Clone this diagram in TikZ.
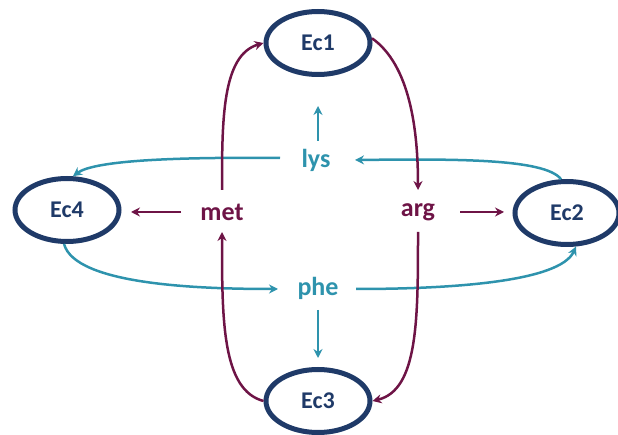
\documentclass[tikz,border=0pt]{standalone}
\usepackage{fontspec}
\setmainfont{Carlito}
\usetikzlibrary{shapes.geometric,arrows.meta}
\definecolor{navy}{HTML}{1F3A68}
\definecolor{tealc}{HTML}{2E93AD}
\definecolor{plum}{HTML}{6E1446}
\begin{document}
\begin{tikzpicture}[x=1pt,y=-1pt,
  ec/.style={draw=navy,line width=5pt,ellipse,minimum width=104pt,minimum height=63pt,inner sep=0pt,text=navy,font=\fontsize{24}{26}\selectfont\bfseries},
  lab/.style={inner sep=0pt,font=\fontsize{26}{28}\selectfont\bfseries},
  ta/.style={draw=tealc,line width=2.5pt,-{Stealth[length=9pt,width=9pt]}},
  pa/.style={draw=plum,line width=2.5pt,-{Stealth[length=9pt,width=9pt]}}]
\useasboundingbox (0,0) rectangle (618,435);
\node[ec] (e1) at (318,43) {Ec1};
\node[ec] (e4) at (67,210) {Ec4};
\node[ec] (e2) at (567,213) {Ec2};
\node[ec] (e3) at (318,401) {Ec3};
\node[lab,text=tealc] (lys) at (316,160) {lys};
\node[lab,text=plum] (met) at (222,212) {met};
\node[lab,text=plum] (arg) at (418,212) {arg};
\node[lab,text=tealc] (phe) at (318,288) {phe};
% straight arrows
\coordinate (l1) at (318,141); \coordinate (l2) at (318,106);
\draw[ta] (l1) -- (l2);
\coordinate (p1) at (318,310); \coordinate (p2) at (318,358);
\draw[ta] (p1) -- (p2);
\coordinate (m1) at (181,212); \coordinate (m2) at (131,212);
\draw[pa] (m1) -- (m2);
\coordinate (a1) at (460,212); \coordinate (a2) at (504,212);
\draw[pa] (a1) -- (a2);
% teal curves
\coordinate (lysR) at (355,160); \coordinate (lysL) at (280,158);
\coordinate (pheL) at (278,289); \coordinate (pheR) at (356,289);
\draw[ta] (e2.100) .. controls (545,158) and (450,159) .. (lysR);
\draw[ta] (lysL) .. controls (180,157) and (95,160) .. (e4.80);
\draw[ta] (e4.265) .. controls (75,285) and (200,289) .. (pheL);
\draw[ta] (pheR) .. controls (450,289) and (560,282) .. (e2.285);
% plum curves
\coordinate (argT) at (418,190); \coordinate (argB) at (418,232);
\coordinate (metT) at (222,190); \coordinate (metB) at (222,232);
\draw[pa] (e1.5) .. controls (410,65) and (418,130) .. (argT);
\draw[pa] (argB) .. controls (418,320) and (418,390) .. (e3.0);
\draw[pa] (metT) .. controls (222,120) and (222,55) .. (e1.180);
\draw[pa] (e3.180) .. controls (222,390) and (222,320) .. (metB);
\end{tikzpicture}
\end{document}
